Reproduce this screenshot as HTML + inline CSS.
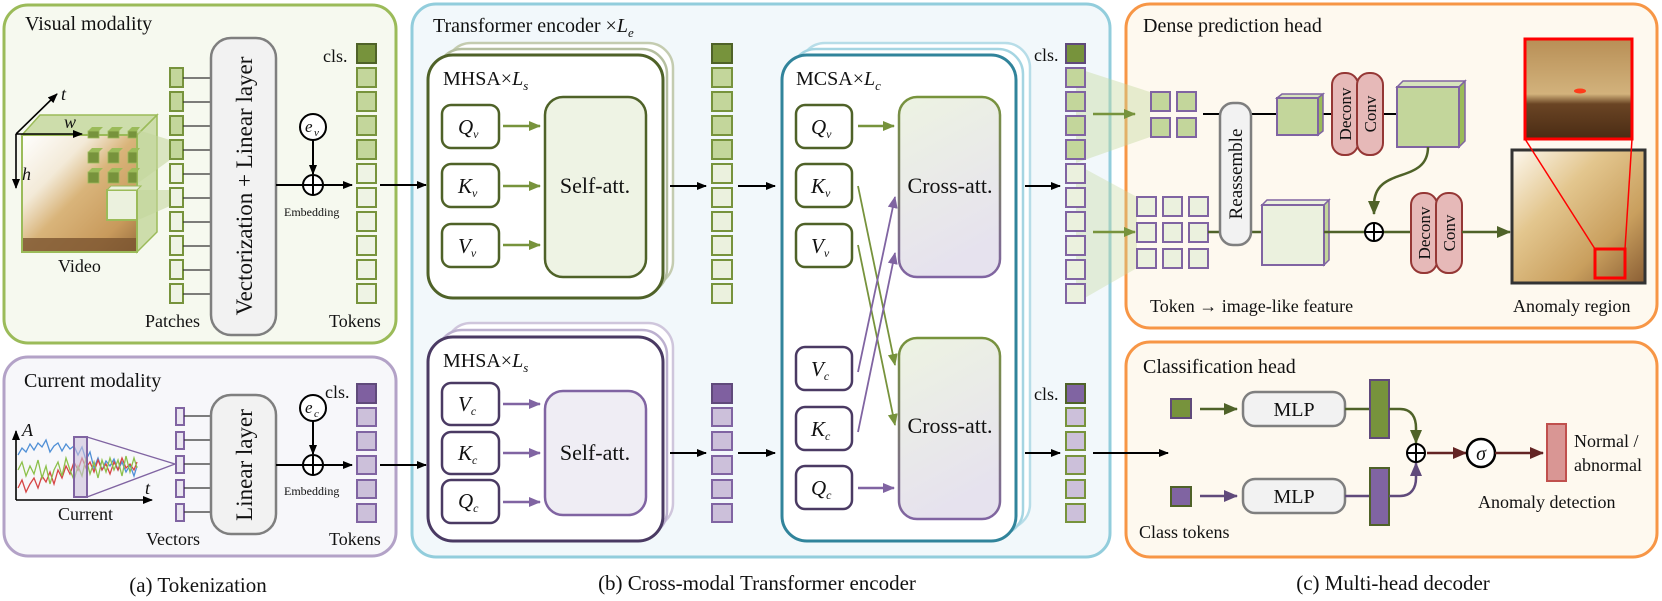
<!DOCTYPE html>
<html><head><meta charset="utf-8"><style>
html,body{margin:0;padding:0;background:#fff}
svg{display:block;font-family:"Liberation Serif","DejaVu Serif",serif}
svg text{font-family:"Liberation Serif","DejaVu Serif",serif;fill:#111}
.it{font-style:italic}
</style></head><body>
<svg width="1662" height="601" viewBox="0 0 1662 601" xmlns="http://www.w3.org/2000/svg" font-family="Liberation Serif, DejaVu Serif, serif">
<defs>
<marker id="mk" markerWidth="10" markerHeight="8" refX="9" refY="4" orient="auto" markerUnits="userSpaceOnUse"><path d="M0,0 L10,4 L0,8z" fill="#000"/></marker>
<marker id="mg" markerWidth="12" markerHeight="10" refX="11" refY="5" orient="auto" markerUnits="userSpaceOnUse"><path d="M0,0 L12,5 L0,10z" fill="#77933c"/></marker>
<marker id="mp" markerWidth="12" markerHeight="10" refX="11" refY="5" orient="auto" markerUnits="userSpaceOnUse"><path d="M0,0 L12,5 L0,10z" fill="#8064a2"/></marker>
<marker id="mdg" markerWidth="14" markerHeight="12" refX="13" refY="6" orient="auto" markerUnits="userSpaceOnUse"><path d="M0,0 L14,6 L0,12z" fill="#4f6228"/></marker>
<marker id="mdp" markerWidth="14" markerHeight="12" refX="13" refY="6" orient="auto" markerUnits="userSpaceOnUse"><path d="M0,0 L14,6 L0,12z" fill="#604a7b"/></marker>
<marker id="mr" markerWidth="14" markerHeight="12" refX="13" refY="6" orient="auto" markerUnits="userSpaceOnUse"><path d="M0,0 L14,6 L0,12z" fill="#632423"/></marker>
<linearGradient id="gx" x1="0" y1="0" x2="0.3" y2="1"><stop offset="0" stop-color="#edf3e2"/><stop offset="1" stop-color="#e6e2ee"/></linearGradient>
<linearGradient id="gs" x1="0" y1="0" x2="0" y2="1"><stop offset="0" stop-color="#77933c"/><stop offset="1" stop-color="#8064a2"/></linearGradient>
<linearGradient id="vid" x1="0" y1="0" x2="1" y2="1"><stop offset="0" stop-color="#ffffff"/><stop offset="0.3" stop-color="#f3ead8"/><stop offset="0.5" stop-color="#d9b47a"/><stop offset="0.8" stop-color="#c89a5c"/><stop offset="1" stop-color="#9a7040"/></linearGradient>
<linearGradient id="big" x1="0" y1="0" x2="1" y2="1"><stop offset="0" stop-color="#fdf8ee"/><stop offset="0.35" stop-color="#e3c68e"/><stop offset="0.7" stop-color="#c99f5e"/><stop offset="1" stop-color="#8a5e34"/></linearGradient>
<linearGradient id="thumb" x1="0" y1="0" x2="0" y2="1"><stop offset="0" stop-color="#b88f56"/><stop offset="0.55" stop-color="#d2b27c"/><stop offset="0.65" stop-color="#6a4424"/><stop offset="1" stop-color="#4a2c14"/></linearGradient>
</defs>

<!-- ===== Visual modality panel ===== -->
<rect x="4" y="5" width="392" height="338" rx="24" fill="#f6f9ef" stroke="#9bbb59" stroke-width="3"/>
<text x="25" y="30" font-size="20">Visual modality</text>
<rect x="22" y="135" width="115" height="117" fill="url(#vid)"/>
<rect x="22" y="238" width="115" height="14" fill="#7a5430" opacity="0.8"/>
<polygon points="22,135 40,115 157,115 137,135" fill="#9bbb59" fill-opacity="0.45" stroke="#9bbb59" stroke-width="1.5"/>
<polygon points="137,135 157,115 157,232 137,252" fill="#9bbb59" fill-opacity="0.45" stroke="#9bbb59" stroke-width="1.5"/>
<rect x="22" y="135" width="115" height="117" fill="none" stroke="#9bbb59" stroke-width="2"/>
<polygon points="138,130 170,140 170,160 138,183" fill="#c3d69b" fill-opacity="0.55"/>
<polygon points="138,190 170,190 170,206 138,220" fill="#c3d69b" fill-opacity="0.55"/>
<g fill="#77933c" stroke="#9bbb59" stroke-width="0.8">
<rect x="88" y="131" width="11" height="7"/><rect x="108" y="131" width="11" height="7"/><rect x="128" y="131" width="9" height="7"/>
<rect x="88" y="152" width="11" height="11"/><rect x="108" y="152" width="11" height="11"/><rect x="128" y="152" width="9" height="11"/>
<rect x="88" y="172" width="11" height="11"/><rect x="108" y="172" width="11" height="11"/><rect x="128" y="172" width="9" height="11"/>
</g>
<g fill="#9bbb59">
<polygon points="88,131 92,127 103,127 99,131"/><polygon points="108,131 112,127 123,127 119,131"/><polygon points="128,131 132,127 140,127 137,131"/>
<polygon points="88,152 92,148 103,148 99,152"/><polygon points="108,152 112,148 123,148 119,152"/><polygon points="128,152 132,148 140,148 137,152"/>
<polygon points="88,172 92,168 103,168 99,172"/><polygon points="108,172 112,168 123,168 119,172"/><polygon points="128,172 132,168 140,168 137,172"/>
</g>
<rect x="107" y="190" width="30" height="30" fill="#ebf1de" stroke="#9bbb59" stroke-width="2"/>
<polygon points="107,190 111,186 141,186 137,190" fill="#ebf1de" stroke="#9bbb59" stroke-width="1"/>
<line x1="16" y1="134" x2="57" y2="94" stroke="#000" stroke-width="1.6" marker-end="url(#mk)"/>
<line x1="16" y1="134" x2="82" y2="134" stroke="#000" stroke-width="1.6" marker-end="url(#mk)"/>
<line x1="16" y1="134" x2="16" y2="188" stroke="#000" stroke-width="1.6" marker-end="url(#mk)"/>
<text x="61" y="100" font-size="18" class="it">t</text>
<text x="64" y="128" font-size="18" class="it">w</text>
<text x="22" y="180" font-size="18" class="it">h</text>
<text x="58" y="272" font-size="18">Video</text>
<g stroke="#77933c" stroke-width="2">
<rect x="170" y="68" width="13" height="19" fill="#c3d69b"/><rect x="170" y="92" width="13" height="19" fill="#c3d69b"/><rect x="170" y="116" width="13" height="19" fill="#c3d69b"/><rect x="170" y="140" width="13" height="19" fill="#c3d69b"/>
<rect x="170" y="164" width="13" height="19" fill="#eef3e4"/><rect x="170" y="188" width="13" height="19" fill="#eef3e4"/><rect x="170" y="212" width="13" height="19" fill="#eef3e4"/><rect x="170" y="236" width="13" height="19" fill="#eef3e4"/><rect x="170" y="260" width="13" height="19" fill="#eef3e4"/><rect x="170" y="284" width="13" height="19" fill="#eef3e4"/>
</g>
<g stroke="#333" stroke-width="1.2">
<line x1="183" y1="78" x2="211" y2="78"/><line x1="183" y1="102" x2="211" y2="102"/><line x1="183" y1="126" x2="211" y2="126"/><line x1="183" y1="150" x2="211" y2="150"/><line x1="183" y1="174" x2="211" y2="174"/><line x1="183" y1="198" x2="211" y2="198"/><line x1="183" y1="222" x2="211" y2="222"/><line x1="183" y1="246" x2="211" y2="246"/><line x1="183" y1="270" x2="211" y2="270"/><line x1="183" y1="294" x2="211" y2="294"/>
</g>
<rect x="211" y="38" width="65" height="297" rx="20" fill="#f2f2f2" stroke="#7f7f7f" stroke-width="2.5"/>
<text transform="translate(252,186) rotate(-90)" text-anchor="middle" font-size="23">Vectorization + Linear layer</text>
<text x="145" y="327" font-size="18">Patches</text>
<circle cx="313" cy="127" r="13" fill="#fff" stroke="#000" stroke-width="2"/>
<text x="305" y="132" font-size="17" class="it">e</text><text x="314" y="136" font-size="11" class="it">v</text>
<line x1="313" y1="140" x2="313" y2="174" stroke="#000" stroke-width="2" marker-end="url(#mk)"/>
<line x1="276" y1="185" x2="352" y2="185" stroke="#000" stroke-width="2" marker-end="url(#mk)"/>
<circle cx="313" cy="185" r="10" fill="#fff" stroke="#000" stroke-width="2"/>
<line x1="303" y1="185" x2="323" y2="185" stroke="#000" stroke-width="2"/><line x1="313" y1="175" x2="313" y2="195" stroke="#000" stroke-width="2"/>
<text x="284" y="216" font-size="12">Embedding</text>
<text x="323" y="62" font-size="18">cls.</text>
<g stroke="#77933c" stroke-width="2">
<rect x="357" y="44" width="19" height="19" fill="#77933c" stroke="#4f6228"/>
<rect x="357" y="68" width="19" height="19" fill="#c3d69b"/><rect x="357" y="92" width="19" height="19" fill="#c3d69b"/><rect x="357" y="116" width="19" height="19" fill="#c3d69b"/><rect x="357" y="140" width="19" height="19" fill="#c3d69b"/>
<rect x="357" y="164" width="19" height="19" fill="#eef3e4"/><rect x="357" y="188" width="19" height="19" fill="#eef3e4"/><rect x="357" y="212" width="19" height="19" fill="#eef3e4"/><rect x="357" y="236" width="19" height="19" fill="#eef3e4"/><rect x="357" y="260" width="19" height="19" fill="#eef3e4"/><rect x="357" y="284" width="19" height="19" fill="#eef3e4"/>
</g>
<text x="329" y="327" font-size="18">Tokens</text>

<!-- ===== Current modality panel ===== -->
<rect x="4" y="357" width="392" height="199" rx="24" fill="#f7f7fa" stroke="#b3a2c7" stroke-width="3"/>
<text x="24" y="387" font-size="20">Current modality</text>
<polyline fill="none" stroke="#4f8fd6" stroke-width="1.3" points="18,455 22,448 26,452 30,444 34,450 38,443 42,447 46,440 50,452 54,446 58,443 62,451 66,444 70,449 74,446 78,455 82,447 86,460 90,452 94,468 98,458 102,470 106,461 110,466 114,459 118,470 122,462 126,472 130,465 134,476 137,466"/>
<polyline fill="none" stroke="#d64545" stroke-width="1.3" points="18,488 22,480 26,492 30,484 34,478 38,488 42,476 46,482 50,472 54,484 58,470 62,478 66,466 70,474 74,462 78,470 82,458 86,468 90,462 94,472 98,460 102,470 106,464 110,474 114,462 118,470 122,458 126,468 130,464 134,470 137,462"/>
<polyline fill="none" stroke="#8cc04a" stroke-width="1.3" points="18,470 22,462 26,476 30,466 34,474 38,460 42,478 46,466 50,484 54,470 58,462 62,476 66,458 70,470 74,480 78,466 82,476 86,458 90,474 94,462 98,478 102,460 106,472 110,458 114,470 118,460 122,476 126,456 130,472 134,458 137,468"/>
<rect x="74" y="437" width="13" height="60" fill="#ccc0da" fill-opacity="0.6" stroke="#8064a2" stroke-width="2"/>
<line x1="87" y1="437" x2="175" y2="464" stroke="#8064a2" stroke-width="1.3"/>
<line x1="87" y1="497" x2="175" y2="464" stroke="#8064a2" stroke-width="1.3"/>
<line x1="16" y1="500" x2="16" y2="431" stroke="#000" stroke-width="1.6" marker-end="url(#mk)"/>
<line x1="16" y1="500" x2="152" y2="500" stroke="#000" stroke-width="1.6" marker-end="url(#mk)"/>
<text x="22" y="436" font-size="18" class="it">A</text>
<text x="145" y="494" font-size="18" class="it">t</text>
<text x="58" y="520" font-size="18">Current</text>
<g stroke="#8064a2" stroke-width="2" fill="#eae6f0">
<rect x="176" y="408" width="8" height="17"/><rect x="176" y="432" width="8" height="17"/><rect x="176" y="456" width="8" height="17"/><rect x="176" y="480" width="8" height="17"/><rect x="176" y="504" width="8" height="17"/>
</g>
<g stroke="#333" stroke-width="1.2">
<line x1="184" y1="416" x2="211" y2="416"/><line x1="184" y1="440" x2="211" y2="440"/><line x1="184" y1="464" x2="211" y2="464"/><line x1="184" y1="488" x2="211" y2="488"/><line x1="184" y1="512" x2="211" y2="512"/>
</g>
<rect x="211" y="395" width="65" height="139" rx="20" fill="#f2f2f2" stroke="#7f7f7f" stroke-width="2.5"/>
<text transform="translate(252,465) rotate(-90)" text-anchor="middle" font-size="23">Linear layer</text>
<text x="146" y="545" font-size="18">Vectors</text>
<circle cx="313" cy="408" r="13" fill="#fff" stroke="#000" stroke-width="2"/>
<text x="305" y="413" font-size="17" class="it">e</text><text x="314" y="417" font-size="11" class="it">c</text>
<line x1="313" y1="421" x2="313" y2="454" stroke="#000" stroke-width="2" marker-end="url(#mk)"/>
<line x1="276" y1="465" x2="352" y2="465" stroke="#000" stroke-width="2" marker-end="url(#mk)"/>
<circle cx="313" cy="465" r="10" fill="#fff" stroke="#000" stroke-width="2"/>
<line x1="303" y1="465" x2="323" y2="465" stroke="#000" stroke-width="2"/><line x1="313" y1="455" x2="313" y2="475" stroke="#000" stroke-width="2"/>
<text x="284" y="495" font-size="12">Embedding</text>
<text x="325" y="398" font-size="18">cls.</text>
<g stroke="#8064a2" stroke-width="2">
<rect x="357" y="384" width="19" height="19" fill="#7f60a0" stroke="#604a7b"/>
<rect x="357" y="408" width="19" height="18" fill="#ccc0da"/><rect x="357" y="432" width="19" height="18" fill="#ccc0da"/><rect x="357" y="456" width="19" height="18" fill="#ccc0da"/><rect x="357" y="480" width="19" height="18" fill="#ccc0da"/><rect x="357" y="504" width="19" height="18" fill="#ccc0da"/>
</g>
<text x="329" y="545" font-size="18">Tokens</text>
<text x="198" y="592" font-size="21" text-anchor="middle">(a)  Tokenization</text>

<!-- ===== Transformer encoder panel ===== -->
<rect x="412" y="4" width="698" height="553" rx="24" fill="#f2f8fb" stroke="#92cddc" stroke-width="3"/>
<text x="433" y="32" font-size="20">Transformer encoder ×<tspan class="it">L</tspan><tspan class="it" font-size="13" dy="5">e</tspan></text>
<line x1="380" y1="185" x2="426" y2="185" stroke="#000" stroke-width="2" marker-end="url(#mk)"/>
<line x1="380" y1="465" x2="426" y2="465" stroke="#000" stroke-width="2" marker-end="url(#mk)"/>

<rect x="446" y="43" width="227" height="243" rx="25" fill="#fff" stroke="#c4ccb0" stroke-width="2.5"/>
<rect x="437" y="49" width="230" height="245" rx="25" fill="#fff" stroke="#b5bfa0" stroke-width="2.5"/>
<rect x="428" y="55" width="235" height="243" rx="25" fill="#fff" stroke="#4f6228" stroke-width="3"/>
<text x="443" y="85" font-size="20">MHSA×<tspan class="it">L</tspan><tspan class="it" font-size="13" dy="5">s</tspan></text>
<g fill="#fff" stroke="#4f6228" stroke-width="2.5">
<rect x="442" y="105" width="57" height="43" rx="9"/><rect x="442" y="164" width="57" height="43" rx="9"/><rect x="442" y="224" width="57" height="43" rx="9"/>
</g>
<text x="458" y="134" font-size="21" class="it">Q<tspan font-size="12" dy="4">v</tspan></text>
<text x="458" y="193" font-size="21" class="it">K<tspan font-size="12" dy="4">v</tspan></text>
<text x="458" y="253" font-size="21" class="it">V<tspan font-size="12" dy="4">v</tspan></text>
<g stroke="#77933c" stroke-width="2.5">
<line x1="503" y1="126" x2="540" y2="126" marker-end="url(#mg)"/><line x1="503" y1="186" x2="540" y2="186" marker-end="url(#mg)"/><line x1="503" y1="245" x2="540" y2="245" marker-end="url(#mg)"/>
</g>
<rect x="545" y="97" width="101" height="180" rx="18" fill="#eef3e4" stroke="#4f6228" stroke-width="2.5"/>
<text x="595" y="193" font-size="22" text-anchor="middle">Self-att.</text>
<line x1="670" y1="186" x2="706" y2="186" stroke="#000" stroke-width="2" marker-end="url(#mk)"/>
<g stroke="#77933c" stroke-width="2">
<rect x="712" y="44" width="20" height="19" fill="#77933c" stroke="#4f6228"/>
<rect x="712" y="68" width="20" height="19" fill="#c3d69b"/><rect x="712" y="92" width="20" height="19" fill="#c3d69b"/><rect x="712" y="116" width="20" height="19" fill="#c3d69b"/><rect x="712" y="140" width="20" height="19" fill="#c3d69b"/>
<rect x="712" y="164" width="20" height="19" fill="#ebf1de"/><rect x="712" y="188" width="20" height="19" fill="#ebf1de"/><rect x="712" y="212" width="20" height="19" fill="#ebf1de"/><rect x="712" y="236" width="20" height="19" fill="#ebf1de"/><rect x="712" y="260" width="20" height="19" fill="#ebf1de"/><rect x="712" y="284" width="20" height="19" fill="#ebf1de"/>
</g>
<line x1="738" y1="186" x2="775" y2="186" stroke="#000" stroke-width="2" marker-end="url(#mk)"/>

<rect x="446" y="323" width="227" height="205" rx="25" fill="#fff" stroke="#cfc6dc" stroke-width="2.5"/>
<rect x="437" y="330" width="230" height="206" rx="25" fill="#fff" stroke="#bcb0cf" stroke-width="2.5"/>
<rect x="428" y="337" width="235" height="204" rx="25" fill="#fff" stroke="#4a3a63" stroke-width="3"/>
<text x="443" y="367" font-size="20">MHSA×<tspan class="it">L</tspan><tspan class="it" font-size="13" dy="5">s</tspan></text>
<g fill="#fff" stroke="#4a3a63" stroke-width="2.5">
<rect x="442" y="383" width="57" height="42" rx="9"/><rect x="442" y="432" width="57" height="42" rx="9"/><rect x="442" y="480" width="57" height="43" rx="9"/>
</g>
<text x="458" y="411" font-size="21" class="it">V<tspan font-size="12" dy="4">c</tspan></text>
<text x="458" y="460" font-size="21" class="it">K<tspan font-size="12" dy="4">c</tspan></text>
<text x="458" y="508" font-size="21" class="it">Q<tspan font-size="12" dy="4">c</tspan></text>
<g stroke="#8064a2" stroke-width="2.5">
<line x1="503" y1="404" x2="540" y2="404" marker-end="url(#mp)"/><line x1="503" y1="453" x2="540" y2="453" marker-end="url(#mp)"/><line x1="503" y1="502" x2="540" y2="502" marker-end="url(#mp)"/>
</g>
<rect x="545" y="391" width="101" height="124" rx="18" fill="#efedf4" stroke="#8064a2" stroke-width="2.5"/>
<text x="595" y="460" font-size="22" text-anchor="middle">Self-att.</text>
<line x1="670" y1="453" x2="706" y2="453" stroke="#000" stroke-width="2" marker-end="url(#mk)"/>
<g stroke="#8064a2" stroke-width="2">
<rect x="712" y="384" width="20" height="19" fill="#7f60a0" stroke="#604a7b"/>
<rect x="712" y="408" width="20" height="18" fill="#ccc0da"/><rect x="712" y="432" width="20" height="18" fill="#ccc0da"/><rect x="712" y="456" width="20" height="18" fill="#ccc0da"/><rect x="712" y="480" width="20" height="18" fill="#ccc0da"/><rect x="712" y="504" width="20" height="18" fill="#ccc0da"/>
</g>
<line x1="738" y1="453" x2="775" y2="453" stroke="#000" stroke-width="2" marker-end="url(#mk)"/>

<rect x="800" y="43" width="230" height="486" rx="25" fill="#fff" stroke="#b7dde8" stroke-width="2.5"/>
<rect x="791" y="49" width="232" height="486" rx="25" fill="#fff" stroke="#a5d5e2" stroke-width="2.5"/>
<rect x="782" y="55" width="234" height="486" rx="25" fill="#fff" stroke="#31849b" stroke-width="3"/>
<text x="796" y="85" font-size="20">MCSA×<tspan class="it">L</tspan><tspan class="it" font-size="13" dy="5">c</tspan></text>
<g fill="#fff" stroke="#4f6228" stroke-width="2.5">
<rect x="796" y="105" width="56" height="43" rx="9"/><rect x="796" y="164" width="56" height="43" rx="9"/><rect x="796" y="224" width="56" height="43" rx="9"/>
</g>
<g fill="#fff" stroke="#4a3a63" stroke-width="2.5">
<rect x="796" y="347" width="56" height="43" rx="9"/><rect x="796" y="407" width="56" height="43" rx="9"/><rect x="796" y="466" width="56" height="43" rx="9"/>
</g>
<text x="811" y="134" font-size="21" class="it">Q<tspan font-size="12" dy="4">v</tspan></text>
<text x="811" y="193" font-size="21" class="it">K<tspan font-size="12" dy="4">v</tspan></text>
<text x="811" y="253" font-size="21" class="it">V<tspan font-size="12" dy="4">v</tspan></text>
<text x="811" y="376" font-size="21" class="it">V<tspan font-size="12" dy="4">c</tspan></text>
<text x="811" y="436" font-size="21" class="it">K<tspan font-size="12" dy="4">c</tspan></text>
<text x="811" y="495" font-size="21" class="it">Q<tspan font-size="12" dy="4">c</tspan></text>
<rect x="899" y="97" width="101" height="180" rx="18" fill="url(#gx)" stroke="url(#gs)" stroke-width="2.5"/>
<text x="950" y="193" font-size="22" text-anchor="middle">Cross-att.</text>
<rect x="899" y="338" width="101" height="181" rx="18" fill="url(#gx)" stroke="url(#gs)" stroke-width="2.5"/>
<text x="950" y="433" font-size="22" text-anchor="middle">Cross-att.</text>
<line x1="858" y1="126" x2="894" y2="126" stroke="#77933c" stroke-width="2.5" marker-end="url(#mg)"/>
<line x1="858" y1="488" x2="894" y2="488" stroke="#8064a2" stroke-width="2.5" marker-end="url(#mp)"/>
<line x1="858" y1="186" x2="895" y2="365" stroke="#77933c" stroke-width="1.8" marker-end="url(#mg)"/>
<line x1="858" y1="245" x2="895" y2="425" stroke="#77933c" stroke-width="1.8" marker-end="url(#mg)"/>
<line x1="858" y1="372" x2="895" y2="197" stroke="#8064a2" stroke-width="1.8" marker-end="url(#mp)"/>
<line x1="858" y1="432" x2="895" y2="253" stroke="#8064a2" stroke-width="1.8" marker-end="url(#mp)"/>
<line x1="1025" y1="186" x2="1060" y2="186" stroke="#000" stroke-width="2" marker-end="url(#mk)"/>
<line x1="1025" y1="453" x2="1060" y2="453" stroke="#000" stroke-width="2" marker-end="url(#mk)"/>
<text x="1034" y="61" font-size="18">cls.</text>
<text x="1034" y="400" font-size="18">cls.</text>
<text x="757" y="590" font-size="21" text-anchor="middle">(b)  Cross-modal Transformer encoder</text>

<!-- ===== Dense prediction head ===== -->
<rect x="1126" y="4" width="531" height="324" rx="24" fill="#fef9ef" stroke="#f79646" stroke-width="3"/>
<text x="1143" y="32" font-size="20">Dense prediction head</text>
<polygon points="1076,68 1150,92 1150,137 1076,163" fill="#c3d69b" fill-opacity="0.4"/>
<polygon points="1076,164 1137,197 1137,268 1076,303" fill="#c3d69b" fill-opacity="0.35"/>
<g stroke="#8064a2" stroke-width="2">
<rect x="1066" y="44" width="19" height="19" fill="#77933c" stroke="#604a7b"/>
<rect x="1066" y="68" width="19" height="19" fill="#c3d69b"/><rect x="1066" y="92" width="19" height="19" fill="#c3d69b"/><rect x="1066" y="116" width="19" height="19" fill="#c3d69b"/><rect x="1066" y="140" width="19" height="19" fill="#c3d69b"/>
<rect x="1066" y="164" width="19" height="19" fill="#ebf1de"/><rect x="1066" y="188" width="19" height="19" fill="#ebf1de"/><rect x="1066" y="212" width="19" height="19" fill="#ebf1de"/><rect x="1066" y="236" width="19" height="19" fill="#ebf1de"/><rect x="1066" y="260" width="19" height="19" fill="#ebf1de"/><rect x="1066" y="284" width="19" height="19" fill="#ebf1de"/>
</g>
<line x1="1093" y1="114" x2="1135" y2="114" stroke="#77933c" stroke-width="2.5" marker-end="url(#mg)"/>
<line x1="1093" y1="232" x2="1135" y2="232" stroke="#77933c" stroke-width="2.5" marker-end="url(#mg)"/>
<g stroke="#8064a2" stroke-width="2" fill="#c3d69b">
<rect x="1151" y="92" width="19" height="19"/><rect x="1177" y="92" width="19" height="19"/><rect x="1151" y="118" width="19" height="19"/><rect x="1177" y="118" width="19" height="19"/>
</g>
<g stroke="#8064a2" stroke-width="2" fill="#ebf1de">
<rect x="1137" y="197" width="19" height="19"/><rect x="1163" y="197" width="19" height="19"/><rect x="1189" y="197" width="19" height="19"/>
<rect x="1137" y="223" width="19" height="19"/><rect x="1163" y="223" width="19" height="19"/><rect x="1189" y="223" width="19" height="19"/>
<rect x="1137" y="249" width="19" height="19"/><rect x="1163" y="249" width="19" height="19"/><rect x="1189" y="249" width="19" height="19"/>
</g>
<line x1="1203" y1="114" x2="1397" y2="114" stroke="#000" stroke-width="2"/>
<line x1="1208" y1="232" x2="1262" y2="232" stroke="#4f6228" stroke-width="2.5"/>
<rect x="1220" y="103" width="31" height="142" rx="13" fill="#f2f2f2" stroke="#7f7f7f" stroke-width="2.5"/>
<text transform="translate(1242,174) rotate(-90)" text-anchor="middle" font-size="19">Reassemble</text>
<polygon points="1277,98 1282,94 1323,94 1318,98" fill="#d7e4bd" stroke="#8064a2" stroke-width="1.5"/>
<polygon points="1318,98 1323,94 1323,131 1318,135" fill="#9bbb59" stroke="#8064a2" stroke-width="1.5"/>
<rect x="1277" y="98" width="41" height="37" fill="#c3d69b" stroke="#8064a2" stroke-width="2"/>
<rect x="1332" y="73" width="26" height="82" rx="12" fill="#e6b9b8" stroke="#953735" stroke-width="2"/>
<rect x="1357" y="73" width="26" height="82" rx="12" fill="#e6b9b8" stroke="#953735" stroke-width="2"/>
<text transform="translate(1351,114) rotate(-90)" text-anchor="middle" font-size="17">Deconv</text>
<text transform="translate(1376,114) rotate(-90)" text-anchor="middle" font-size="17">Conv</text>
<polygon points="1397,87 1403,81 1465,81 1459,87" fill="#d7e4bd" stroke="#8064a2" stroke-width="1.5"/>
<polygon points="1459,87 1465,81 1465,141 1459,147" fill="#9bbb59" stroke="#8064a2" stroke-width="1.5"/>
<rect x="1397" y="87" width="62" height="60" fill="#c3d69b" stroke="#8064a2" stroke-width="2"/>
<path d="M1428,147 C1428,185 1374,165 1374,205 L1374,214" fill="none" stroke="#4f6228" stroke-width="2.5" marker-end="url(#mdg)"/>
<polygon points="1262,205 1267,200 1329,200 1324,205" fill="#ebf1de" stroke="#8064a2" stroke-width="1.5"/>
<polygon points="1324,205 1329,200 1329,260 1324,265" fill="#c3d69b" stroke="#8064a2" stroke-width="1.5"/>
<rect x="1262" y="205" width="62" height="60" fill="#ebf1de" stroke="#8064a2" stroke-width="2"/>
<line x1="1324" y1="232" x2="1365" y2="232" stroke="#4f6228" stroke-width="2.5"/>
<line x1="1383" y1="232" x2="1411" y2="232" stroke="#4f6228" stroke-width="2.5"/>
<circle cx="1374" cy="232" r="9" fill="#fff" stroke="#000" stroke-width="2"/>
<line x1="1365" y1="232" x2="1383" y2="232" stroke="#000" stroke-width="2"/><line x1="1374" y1="223" x2="1374" y2="241" stroke="#000" stroke-width="2"/>
<rect x="1411" y="193" width="26" height="80" rx="12" fill="#e6b9b8" stroke="#953735" stroke-width="2"/>
<rect x="1436" y="193" width="26" height="80" rx="12" fill="#e6b9b8" stroke="#953735" stroke-width="2"/>
<text transform="translate(1430,233) rotate(-90)" text-anchor="middle" font-size="17">Deconv</text>
<text transform="translate(1455,233) rotate(-90)" text-anchor="middle" font-size="17">Conv</text>
<line x1="1462" y1="232" x2="1510" y2="232" stroke="#4f6228" stroke-width="2.5" marker-end="url(#mdg)"/>
<rect x="1512" y="150" width="133" height="133" fill="url(#big)" stroke="#333" stroke-width="3"/>
<rect x="1525" y="39" width="107" height="100" fill="url(#thumb)" stroke="#ff0000" stroke-width="3"/>
<ellipse cx="1580" cy="91" rx="6" ry="2.5" fill="#ff3b1a"/>
<rect x="1595" y="249" width="30" height="29" fill="none" stroke="#ff0000" stroke-width="3"/>
<line x1="1525" y1="139" x2="1595" y2="249" stroke="#ff0000" stroke-width="1.5"/>
<line x1="1632" y1="139" x2="1625" y2="249" stroke="#ff0000" stroke-width="1.5"/>
<text x="1150" y="312" font-size="18">Token → image-like feature</text>
<text x="1513" y="312" font-size="18">Anomaly region</text>

<!-- ===== Classification head ===== -->
<rect x="1126" y="342" width="531" height="215" rx="24" fill="#fef9ef" stroke="#f79646" stroke-width="3"/>
<text x="1143" y="373" font-size="20">Classification head</text>
<g stroke="#77933c" stroke-width="2">
<rect x="1066" y="384" width="19" height="19" fill="#8064a2" stroke="#4f6228"/>
<rect x="1066" y="408" width="19" height="18" fill="#ccc0da"/><rect x="1066" y="432" width="19" height="18" fill="#ccc0da"/><rect x="1066" y="456" width="19" height="18" fill="#ccc0da"/><rect x="1066" y="480" width="19" height="18" fill="#ccc0da"/><rect x="1066" y="504" width="19" height="18" fill="#ccc0da"/>
</g>
<line x1="1093" y1="453" x2="1168" y2="453" stroke="#000" stroke-width="2" marker-end="url(#mk)"/>
<rect x="1171" y="399" width="20" height="19" fill="#77933c" stroke="#604a7b" stroke-width="2"/>
<rect x="1171" y="487" width="20" height="19" fill="#8064a2" stroke="#4f6228" stroke-width="2"/>
<line x1="1200" y1="409" x2="1237" y2="409" stroke="#4f6228" stroke-width="2.5" marker-end="url(#mdg)"/>
<line x1="1200" y1="496" x2="1237" y2="496" stroke="#604a7b" stroke-width="2.5" marker-end="url(#mdp)"/>
<rect x="1243" y="392" width="102" height="34" rx="12" fill="#f2f2f2" stroke="#7f7f7f" stroke-width="2.5"/>
<rect x="1243" y="479" width="102" height="34" rx="12" fill="#f2f2f2" stroke="#7f7f7f" stroke-width="2.5"/>
<text x="1294" y="416" font-size="20" text-anchor="middle">MLP</text>
<text x="1294" y="503" font-size="20" text-anchor="middle">MLP</text>
<line x1="1345" y1="409" x2="1370" y2="409" stroke="#4f6228" stroke-width="2.5"/>
<line x1="1345" y1="496" x2="1370" y2="496" stroke="#604a7b" stroke-width="2.5"/>
<rect x="1370" y="380" width="19" height="58" fill="#77933c" stroke="#604a7b" stroke-width="2"/>
<rect x="1370" y="468" width="19" height="57" fill="#8064a2" stroke="#4f6228" stroke-width="2"/>
<path d="M1389,409 L1400,409 C1412,409 1416,418 1416,428 L1416,443" fill="none" stroke="#4f6228" stroke-width="2.5" marker-end="url(#mdg)"/>
<path d="M1389,496 L1400,496 C1412,496 1416,487 1416,478 L1416,463" fill="none" stroke="#604a7b" stroke-width="2.5" marker-end="url(#mdp)"/>
<circle cx="1416" cy="453" r="9" fill="#fff" stroke="#000" stroke-width="2"/>
<line x1="1407" y1="453" x2="1425" y2="453" stroke="#000" stroke-width="2"/><line x1="1416" y1="444" x2="1416" y2="462" stroke="#000" stroke-width="2"/>
<line x1="1427" y1="453" x2="1466" y2="453" stroke="#632423" stroke-width="2.5" marker-end="url(#mr)"/>
<circle cx="1481" cy="453" r="14" fill="#fff" stroke="#000" stroke-width="2.5"/>
<text x="1481" y="460" font-size="20" class="it" text-anchor="middle">σ</text>
<line x1="1495" y1="453" x2="1543" y2="453" stroke="#632423" stroke-width="2.5" marker-end="url(#mr)"/>
<rect x="1547" y="424" width="19" height="57" fill="#d99694" stroke="#c0504d" stroke-width="2"/>
<text x="1574" y="447" font-size="18">Normal /</text>
<text x="1574" y="471" font-size="18">abnormal</text>
<text x="1478" y="508" font-size="18">Anomaly detection</text>
<text x="1139" y="538" font-size="18">Class tokens</text>
<text x="1393" y="590" font-size="21" text-anchor="middle">(c)  Multi-head decoder</text>
</svg>
</body></html>
